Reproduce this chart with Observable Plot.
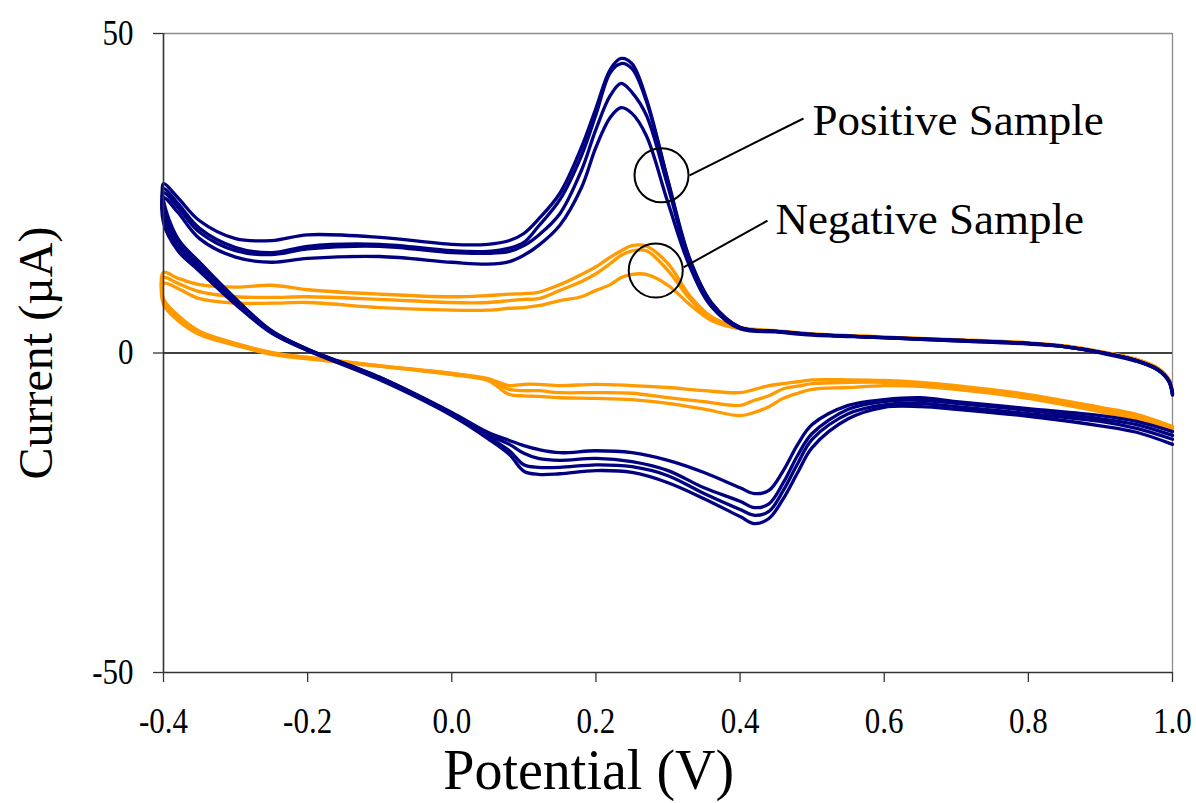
<!DOCTYPE html>
<html>
<head>
<meta charset="utf-8">
<script src="https://cdn.jsdelivr.net/npm/d3@7"></script>
<script src="https://cdn.jsdelivr.net/npm/@observablehq/plot@0.6"></script>
<style>
  body { margin: 0; background: #fff; }
  #chart svg { display: block; }
</style>
</head>
<body>
<div id="chart"></div>
<script>
// ---- Data (potential in V, current in µA) ----
const xTicks = [-0.4, -0.2, 0.0, 0.2, 0.4, 0.6, 0.8, 1.0];
const yTicks = [-50, 0, 50];

// forward (upper) branch potentials, -0.4 -> 1.0
const upperPotential = [-0.4, -0.38, -0.35, -0.3, -0.25, -0.2, -0.1, 0.0, 0.05, 0.08, 0.1, 0.12, 0.15, 0.18, 0.2, 0.22, 0.235, 0.25, 0.27, 0.3, 0.33, 0.36, 0.4, 0.45, 0.5, 0.6, 0.7, 0.8, 0.85, 0.9, 0.95, 0.98, 0.995, 1.0];
// reverse (lower) branch potentials, 1.0 -> -0.4
const lowerPotential = [1.0, 0.95, 0.9, 0.8, 0.7, 0.65, 0.6, 0.55, 0.5, 0.48, 0.46, 0.44, 0.42, 0.4, 0.35, 0.3, 0.25, 0.2, 0.15, 0.12, 0.1, 0.08, 0.05, 0.0, -0.1, -0.2, -0.25, -0.3, -0.35, -0.38, -0.4];

// Positive sample, 4 cycles
const posCycle1Upper = [26.5, 24.3, 20.7, 17.9, 17.6, 18.5, 18.1, 17.0, 17.0, 17.6, 18.7, 20.9, 25.0, 32.2, 38.3, 44.4, 46.1, 45.3, 39.8, 27.0, 14.8, 7.9, 4.0, 3.4, 2.9, 2.4, 2.0, 1.5, 1.0, 0.1, -1.2, -2.6, -4.3, -6.3];
const posCycle2Upper = [25.7, 23.4, 19.5, 16.5, 15.7, 16.7, 17.0, 16.0, 15.9, 16.4, 17.3, 19.8, 24.0, 30.9, 37.3, 43.9, 45.3, 44.5, 39.4, 26.8, 14.6, 7.9, 4.0, 3.4, 2.9, 2.4, 2.0, 1.5, 1.0, 0.1, -1.2, -2.6, -4.4, -6.4];
const posCycle3Upper = [25.1, 22.8, 18.9, 16.0, 15.4, 16.3, 16.7, 15.7, 15.6, 15.9, 16.8, 18.4, 21.8, 28.6, 35.0, 40.3, 42.2, 40.8, 37.2, 26.0, 14.3, 7.6, 4.0, 3.4, 2.9, 2.4, 1.9, 1.5, 1.0, 0.1, -1.2, -2.7, -4.4, -6.5];
const posCycle4Upper = [24.3, 22.0, 17.9, 15.0, 14.2, 14.8, 15.1, 14.2, 13.9, 14.3, 15.3, 16.8, 20.0, 25.9, 32.2, 36.9, 38.4, 37.5, 34.0, 23.5, 13.6, 7.3, 3.8, 3.3, 2.8, 2.4, 1.9, 1.4, 1.0, 0.0, -1.3, -2.7, -4.5, -6.6];
const posCycle1Lower = [-12.3, -10.7, -9.8, -8.7, -7.6, -7.0, -7.3, -8.2, -11.2, -14.3, -18.4, -21.5, -22.0, -21.1, -18.7, -16.8, -15.6, -15.3, -15.6, -15.1, -14.5, -13.7, -12.4, -9.3, -3.8, 0.6, 3.5, 8.5, 14.2, 17.9, 23.9];
const posCycle2Lower = [-12.9, -11.2, -10.3, -9.0, -7.9, -7.4, -7.6, -8.8, -12.6, -16.0, -20.3, -23.6, -24.2, -23.2, -21.1, -18.4, -17.0, -16.5, -16.8, -16.5, -15.7, -14.3, -12.8, -9.5, -3.8, 0.6, 3.4, 8.2, 13.7, 17.3, 22.6];
const posCycle3Lower = [-13.5, -11.8, -10.7, -9.5, -8.4, -7.9, -8.1, -9.5, -13.5, -17.3, -21.5, -24.8, -25.4, -24.5, -22.0, -19.2, -17.8, -17.5, -17.9, -17.9, -17.5, -15.3, -13.1, -9.6, -4.0, 0.4, 3.2, 7.9, 13.2, 16.7, 21.5];
const posCycle4Lower = [-14.3, -12.4, -11.4, -9.9, -8.8, -8.4, -8.5, -10.3, -14.8, -18.7, -22.8, -25.9, -26.7, -25.6, -22.8, -20.3, -18.7, -18.4, -18.9, -19.0, -18.5, -15.9, -13.4, -9.8, -4.2, 0.4, 3.1, 7.6, 12.8, 16.0, 20.4];

// Negative sample, 3 cycles
const negCycle1Upper = [12.6, 11.7, 10.7, 10.3, 10.6, 9.9, 9.2, 8.8, 9.0, 9.2, 9.3, 9.5, 10.7, 12.3, 13.5, 15.0, 16.0, 16.8, 16.7, 14.0, 9.0, 5.7, 4.0, 3.5, 3.0, 2.5, 2.1, 1.6, 1.1, 0.2, -1.0, -2.4, -4.1, -6.1];
const negCycle2Upper = [11.8, 10.9, 9.6, 8.8, 8.7, 8.8, 8.4, 7.9, 7.9, 8.2, 8.4, 8.5, 9.8, 11.2, 12.4, 14.0, 15.3, 16.0, 16.0, 12.9, 8.5, 5.4, 3.8, 3.4, 3.0, 2.5, 2.0, 1.6, 1.1, 0.2, -1.0, -2.4, -4.2, -6.2];
const negCycle3Upper = [10.9, 10.1, 8.5, 7.8, 7.8, 7.9, 7.1, 6.7, 6.7, 7.0, 7.1, 7.4, 8.2, 8.8, 9.8, 10.7, 11.8, 12.3, 12.3, 10.6, 7.6, 5.1, 3.8, 3.4, 2.9, 2.5, 2.0, 1.5, 1.1, 0.2, -1.1, -2.5, -4.2, -6.2];
const negCycle1Lower = [-11.5, -9.6, -8.5, -6.5, -5.1, -4.6, -4.3, -4.2, -4.2, -4.5, -4.8, -5.1, -5.7, -6.2, -5.9, -5.4, -5.1, -4.9, -5.1, -4.9, -4.9, -5.1, -4.0, -3.2, -2.0, -0.7, 0.1, 1.5, 3.4, 5.9, 8.5];
const negCycle2Lower = [-11.8, -9.9, -8.8, -6.8, -5.4, -4.9, -4.6, -4.6, -4.8, -5.2, -5.6, -6.7, -7.4, -8.2, -7.6, -7.0, -6.3, -6.2, -6.2, -5.9, -5.9, -5.7, -4.2, -3.2, -2.0, -0.7, -0.1, 1.3, 3.2, 5.6, 8.1];
const negCycle3Lower = [-12.1, -10.3, -9.2, -7.1, -5.7, -5.2, -5.1, -5.4, -5.7, -6.3, -7.1, -8.4, -9.3, -9.8, -8.8, -7.9, -7.3, -7.1, -7.0, -6.8, -6.7, -6.5, -4.3, -3.4, -2.1, -0.9, -0.2, 1.2, 2.9, 5.1, 7.6];

const positiveCycles = [[posCycle1Lower, posCycle1Upper], [posCycle2Lower, posCycle2Upper], [posCycle3Lower, posCycle3Upper], [posCycle4Lower, posCycle4Upper]];
const negativeCycles = [[negCycle1Lower, negCycle1Upper], [negCycle2Lower, negCycle2Upper], [negCycle3Lower, negCycle3Upper]];

function buildRows(cycles, name) {
  const rows = [];
  cycles.forEach(([lower, upper], k) => {
    lower.forEach((c, i) => rows.push({cycle: name + k, V: lowerPotential[i], I: c}));
    upper.forEach((c, i) => rows.push({cycle: name + k, V: upperPotential[i], I: c}));
  });
  return rows;
}
const posRows = buildRows(positiveCycles, "pos");
const negRows = buildRows(negativeCycles, "neg");

const navy = "#000080";
const orange = "#FF9A00";
const serif = "'Liberation Serif', 'Times New Roman', serif";

const chart = Plot.plot({
  width: 1196,
  height: 803,
  marginLeft: 163,
  marginRight: 24,
  marginTop: 33,
  marginBottom: 131,
  x: {domain: [-0.4, 1.0]},
  y: {domain: [-50, 50]},
  style: {fontFamily: serif, background: "#fff", color: "#000"},
  marks: [
    Plot.ruleY([50], {stroke: "#8c8c8c", strokeWidth: 1.3}),
    Plot.ruleX([1.0], {stroke: "#8c8c8c", strokeWidth: 1.3}),
    Plot.ruleY([0], {stroke: "#000", strokeWidth: 1.3}),
    Plot.line(negRows, {x: "V", y: "I", z: "cycle", stroke: orange, strokeWidth: 3.3, curve: "catmull-rom"}),
    Plot.line(posRows, {x: "V", y: "I", z: "cycle", stroke: navy, strokeWidth: 3.3, curve: "catmull-rom"}),
    Plot.ruleX([-0.4], {stroke: "#333", strokeWidth: 1.6}),
    Plot.ruleY([-50], {stroke: "#333", strokeWidth: 1.6}),
    Plot.axisX({ticks: xTicks, tickFormat: d => d.toFixed(1), tickSize: 10, tickPadding: 25, fontSize: 31, label: null, stroke: "#333", strokeWidth: 1.3}),
    Plot.axisY({ticks: yTicks, tickFormat: d => String(d), tickSize: 10, tickPadding: 20, fontSize: 31, label: null, stroke: "#333", strokeWidth: 1.3}),
    // annotation circles and leaders
    Plot.dot([{V: 0.291, I: 27.8}, {V: 0.283, I: 12.9}], {x: "V", y: "I", r: 27, stroke: "#000", strokeWidth: 2, fill: "none"}),
    Plot.link([{x1: 0.330, y1: 27.8, x2: 0.488, y2: 36.7}, {x1: 0.3215, y1: 13.4, x2: 0.438, y2: 20.7}], {x1: "x1", y1: "y1", x2: "x2", y2: "y2", stroke: "#000", strokeWidth: 2}),
    Plot.text([{V: 0.5005, I: 36.3, t: "Positive Sample"}, {V: 0.449, I: 20.95, t: "Negative Sample"}], {x: "V", y: "I", text: "t", fontSize: 45, textAnchor: "start", lineAnchor: "middle", fill: "#000"}),
    // axis titles
    Plot.text([{V: 0.19, I: -65.35, t: "Potential (V)"}], {x: "V", y: "I", text: "t", fontSize: 56, textAnchor: "middle", lineAnchor: "middle", fill: "#000"}),
    Plot.text([{V: -0.5754, I: 0, t: "Current (µA)"}], {x: "V", y: "I", text: "t", fontSize: 48, rotate: -90, textAnchor: "middle", lineAnchor: "middle", fill: "#000"})
  ]
});
// tick labels in the reference are slightly taller than wide: stretch them vertically
d3.select(chart).selectAll('g[aria-label="x-axis tick label"] text, g[aria-label="y-axis tick label"] text')
  .each(function () {
    const t = this.getAttribute("transform");
    if (t) {
      this.setAttribute("transform", t + " scale(1,1.15)");
    } else {
      const x = this.getAttribute("x") || 0, y = this.getAttribute("y") || 0;
      this.removeAttribute("x"); this.removeAttribute("y");
      this.setAttribute("transform", `translate(${x},${y}) scale(1,1.15)`);
    }
  });
document.getElementById("chart").append(chart);
</script>
</body>
</html>
